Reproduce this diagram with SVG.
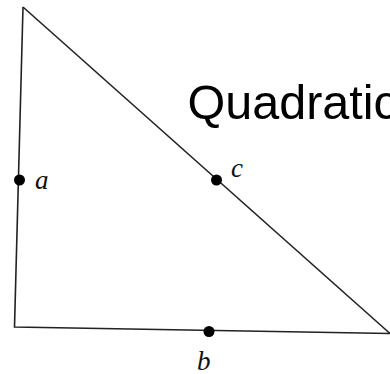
<svg xmlns="http://www.w3.org/2000/svg" width="390" height="374" viewBox="0 0 390 374">
<style>
.edge{fill:none;stroke:#222;stroke-width:1.6;stroke-linejoin:miter}
.dot{fill:#000}
.lbl{font-family:"Liberation Serif",serif;font-style:italic;font-size:27px;fill:#111}
.title{font-family:"Liberation Sans",Arial,sans-serif;font-size:48.5px;fill:#000}
</style>
<rect width="390" height="374" fill="#fff"/>
<g id="connectors">
<path class="edge" d="M23,7 L14.5,327 L390,333.5"/>
<path class="edge" d="M23,7 L390,333.5"/>
</g>
<g id="node-a">
<circle class="dot" cx="19.5" cy="180" r="5.5"/>
<text class="lbl" x="35" y="189">a</text>
</g>
<g id="node-c">
<circle class="dot" cx="216.5" cy="180" r="5.5"/>
<text class="lbl" x="231" y="177">c</text>
</g>
<g id="node-b">
<circle class="dot" cx="209" cy="331.5" r="5.5"/>
<text class="lbl" x="197" y="370">b</text>
</g>
<g id="title">
<text class="title" x="187.5" y="119">Quadratic</text>
</g>
</svg>
